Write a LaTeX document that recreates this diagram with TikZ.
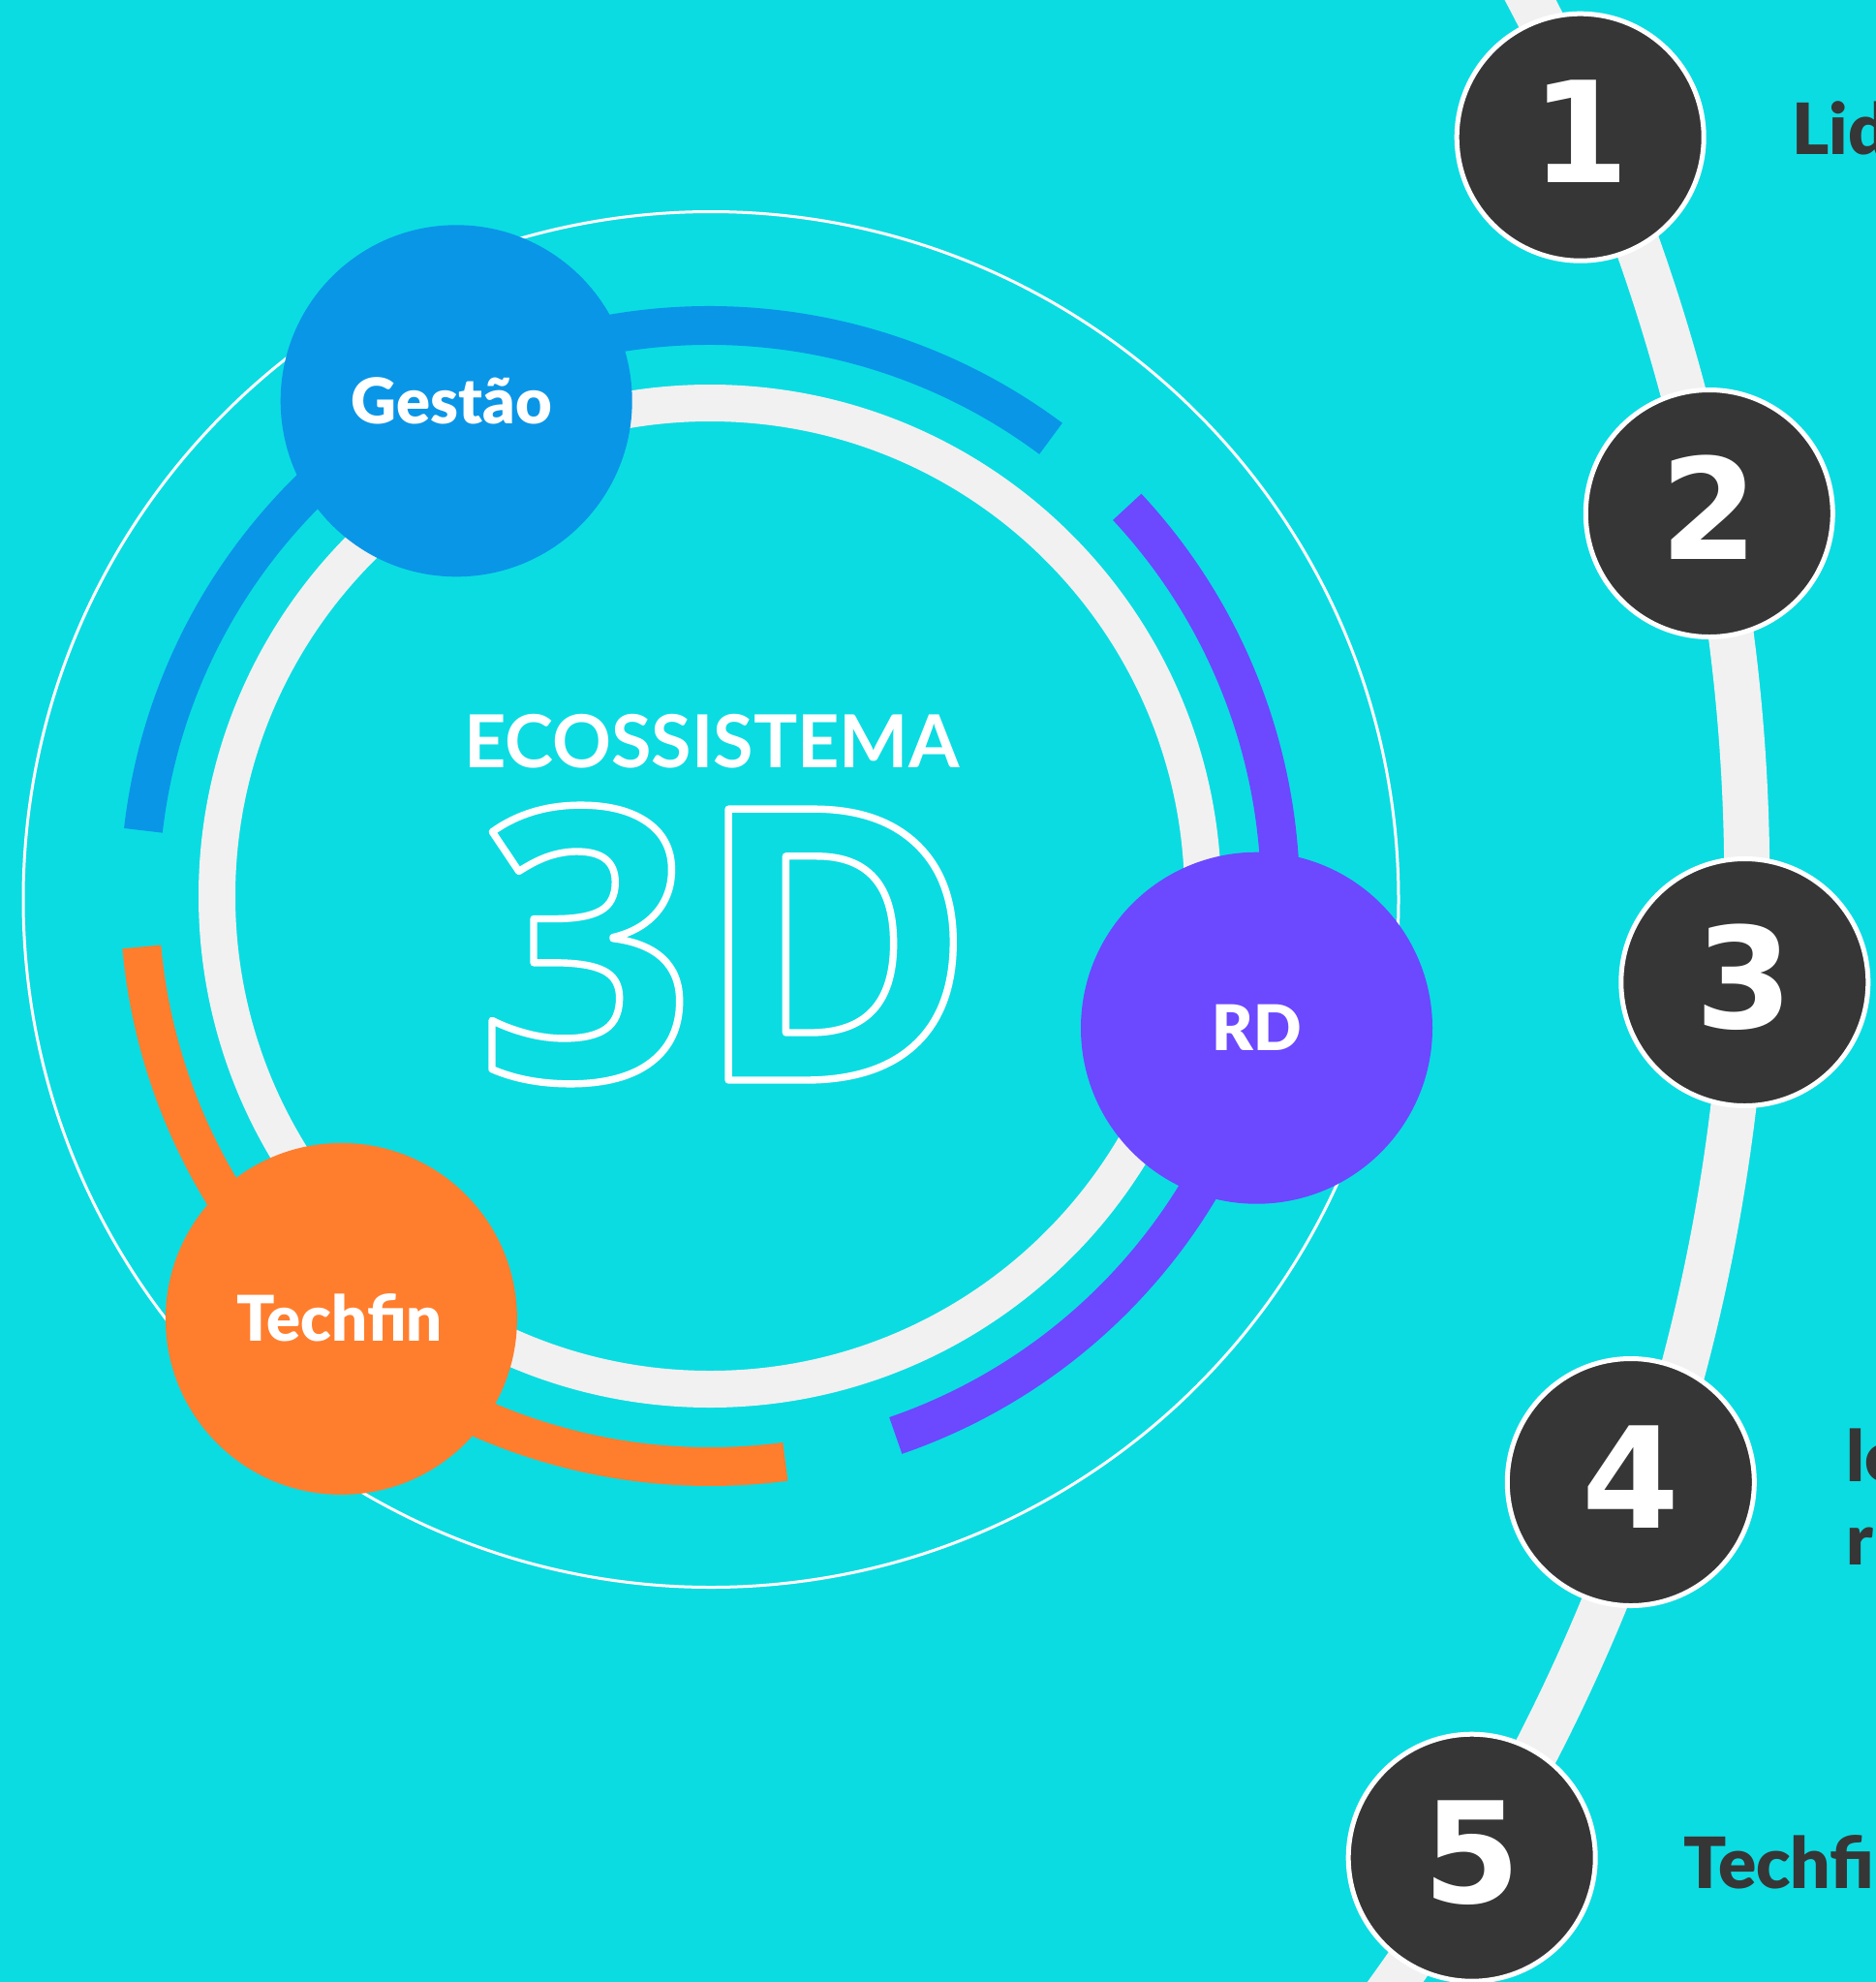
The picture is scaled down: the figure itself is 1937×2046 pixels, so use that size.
\documentclass[tikz,border=0pt]{standalone}
\usepackage{fontspec}
\setmainfont{Lato}
\newfontfamily\heavy{Lato Black}
\newfontfamily\digitfont{DejaVu Sans}
\newfontfamily\titlefont{Open Sans}

\definecolor{bg}{HTML}{0BDCE2}
\definecolor{ringgray}{HTML}{F1F1F1}
\definecolor{gblue}{HTML}{0A96E7}
\definecolor{rdpurple}{HTML}{6C48FF}
\definecolor{tforange}{HTML}{FF7E2E}
\definecolor{ink}{HTML}{363636}

% stroked (hollow) glyphs through the dvipdfmx text render mode
\newcommand\hollowtext[1]{\special{pdf:literal direct 1 Tr 7.4 w 1 j 1 1 1 RG}#1\special{pdf:literal direct 0 Tr}}

\begin{document}
\begin{tikzpicture}[x=1bp, y=-1bp,
  arcband/.style={line width=40bp, line cap=butt},
  hub/.style={circle, minimum size=363bp, inner sep=0pt, text=white,
    font=\heavy\fontsize{65bp}{78bp}\selectfont, text height=47bp, text depth=0bp},
  numdot/.style={circle, fill=ink, draw=white, line width=5bp, minimum size=255bp,
    inner sep=0pt, text=white, font=\digitfont\bfseries\fontsize{145bp}{150bp}\selectfont,
    text height=106bp, text depth=12bp},
  sidetext/.style={anchor=base west, inner sep=0pt, text=ink,
    font=\heavy\fontsize{73bp}{86.4bp}\selectfont}
]
\useasboundingbox (0,0) rectangle (1937,2046);
\clip (0,0) rectangle (1937,2046);
\fill[bg] (0,0) rectangle (1937,2046);

% centres of the rings
\coordinate (c) at (733,925);
\coordinate (co) at (734,928.5);
\coordinate (cr) at (-156.7,909.4);

% timeline band on the right
\draw[ringgray, line width=47bp] (cr) ++(-30:1960.5) arc[start angle=-30, end angle=38, radius=1960.5];

% thin outer ring
\draw[white, line width=3bp] (co) circle[radius=710];

% light inner ring
\draw[ringgray, line width=38bp] (c) circle[radius=509];

% coloured arcs
\draw[arcband, gblue] (c) ++(186.6:589) arc[start angle=186.6, end angle=306.7, radius=589];
\draw[arcband, rdpurple] (c) ++(317:589) arc[start angle=317, end angle=431, radius=589];
\draw[arcband, tforange] (c) ++(82.4:589) arc[start angle=82.4, end angle=174.9, radius=589];

% hubs
\node[hub, fill=gblue] (gestao) at (471.2,413.8) {\hspace*{-10bp}Gestão};
\node[hub, fill=rdpurple] (rd) at (1297.5,1061.2) {RD};
\node[hub, fill=tforange] (techfin) at (352.4,1361.4) {\hspace*{-4bp}Techfin};

% central title
\node[anchor=base, inner sep=0pt, text=white, font=\bfseries\fontsize{75.5bp}{84bp}\selectfont,
  text height=55bp, text depth=0bp] (eco) at (735,792) {ECOSSISTEMA};
\node[anchor=base, inner sep=0pt, text=white, font=\titlefont\bfseries\fontsize{392bp}{400bp}\selectfont,
  text height=290bp, text depth=0bp] (three) at (750,1115)
  {\hollowtext{3D}};

% numbered steps
\node[numdot] (n1) at (1631.7,141.7) {1};
\node[numdot] (n2) at (1764.8,530) {2};
\node[numdot] (n3) at (1801.3,1014) {3};
\node[numdot] (n4) at (1683.8,1530) {4};
\node[numdot] (n5) at (1519.7,1917.7) {5};

% step captions
\node[sidetext] (t1) at (1850,159) {Lid};
\node[sidetext, align=left] (t4) at (1906,1615.7) {le\\r};
\node[sidetext] (t5) at (1738,1949.3) {Techfi};
\end{tikzpicture}
\end{document}
